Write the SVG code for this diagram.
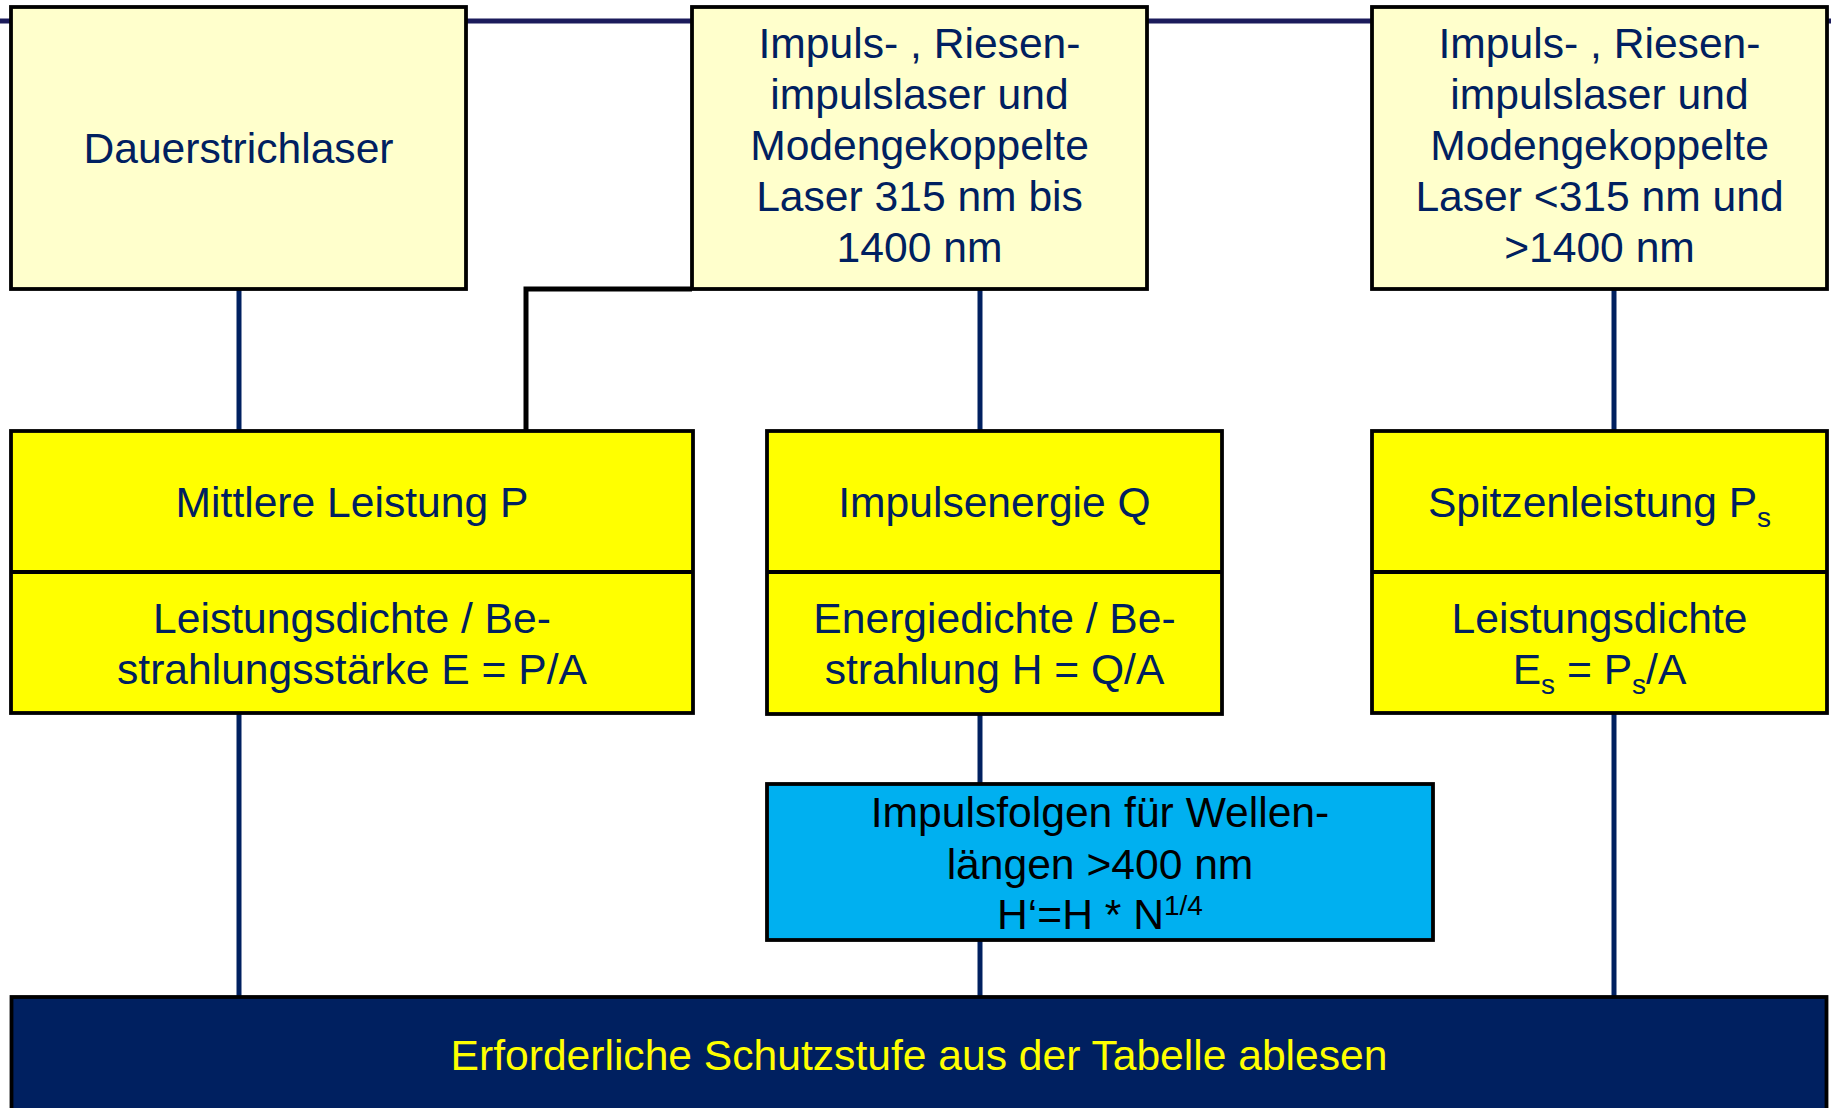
<svg xmlns="http://www.w3.org/2000/svg" width="1831" height="1108" viewBox="0 0 1831 1108">
<style>
.t{font-family:"Liberation Sans",Arial,sans-serif;font-size:42.6px;text-anchor:middle;fill:#002060}
.k{fill:#000}
.y{fill:#ffff00}
.box{stroke:#000;stroke-width:3.8}
.light{fill:#ffffcc}
.yel{fill:#ffff00}
.blue{fill:#00b0f0}
.navy{fill:#002060}
.c{stroke:#002060;stroke-width:5;fill:none}
.sub{font-size:28px}
</style>
<rect width="1831" height="1108" fill="#fff"/>
<g id="connectors">
<line x1="0" y1="21" x2="1831" y2="21" stroke="#1c1c5c" stroke-width="5"/>
<line class="c" x1="239" y1="289" x2="239" y2="431"/>
<line class="c" x1="239" y1="713" x2="239" y2="997"/>
<line class="c" x1="980" y1="289" x2="980" y2="431"/>
<line class="c" x1="980" y1="714" x2="980" y2="784"/>
<line class="c" x1="980" y1="940" x2="980" y2="997"/>
<line class="c" x1="1614" y1="289" x2="1614" y2="431"/>
<line class="c" x1="1614" y1="713" x2="1614" y2="997"/>
<path d="M692,289 H526 V432" stroke="#000" stroke-width="5" fill="none"/>
</g>
<g id="dauerstrichlaser">
<rect class="box light" x="11" y="7" width="455" height="282"/>
<text class="t" x="238.5" y="163">Dauerstrichlaser</text>
</g>
<g id="impuls-315-1400">
<rect class="box light" x="692" y="7" width="455" height="282"/>
<text class="t" x="919.5" y="58">Impuls- , Riesen-</text>
<text class="t" x="919.5" y="109">impulslaser und</text>
<text class="t" x="919.5" y="160">Modengekoppelte</text>
<text class="t" x="919.5" y="211">Laser 315 nm bis</text>
<text class="t" x="919.5" y="262">1400 nm</text>
</g>
<g id="impuls-outside">
<rect class="box light" x="1372" y="7" width="455" height="282"/>
<text class="t" x="1599.5" y="58">Impuls- , Riesen-</text>
<text class="t" x="1599.5" y="109">impulslaser und</text>
<text class="t" x="1599.5" y="160">Modengekoppelte</text>
<text class="t" x="1599.5" y="211">Laser &lt;315 nm und</text>
<text class="t" x="1599.5" y="262">&gt;1400 nm</text>
</g>
<g id="mittlere-leistung">
<rect class="box yel" x="11" y="431" width="682" height="282"/>
<line x1="11" y1="572" x2="693" y2="572" stroke="#000" stroke-width="3.8"/>
<text class="t" x="352" y="517">Mittlere Leistung P</text>
<text class="t" x="352" y="633">Leistungsdichte / Be-</text>
<text class="t" x="352" y="684">strahlungsstärke E = P/A</text>
</g>
<g id="impulsenergie">
<rect class="box yel" x="767" y="431" width="455" height="283"/>
<line x1="767" y1="572" x2="1222" y2="572" stroke="#000" stroke-width="3.8"/>
<text class="t" x="994.5" y="517">Impulsenergie Q</text>
<text class="t" x="994.5" y="633">Energiedichte / Be-</text>
<text class="t" x="994.5" y="684">strahlung H = Q/A</text>
</g>
<g id="spitzenleistung">
<rect class="box yel" x="1372" y="431" width="455" height="282"/>
<line x1="1372" y1="572" x2="1827" y2="572" stroke="#000" stroke-width="3.8"/>
<text class="t" x="1599.5" y="517">Spitzenleistung P<tspan class="sub" dy="10">s</tspan></text>
<text class="t" x="1599.5" y="633">Leistungsdichte</text>
<text class="t" x="1599.5" y="684">E<tspan class="sub" dy="10">s</tspan><tspan dy="-10"> = P</tspan><tspan class="sub" dy="10">s</tspan><tspan dy="-10">/A</tspan></text>
</g>
<g id="impulsfolgen">
<rect class="box blue" x="767" y="784" width="666" height="156"/>
<text class="t k" x="1100" y="827">Impulsfolgen für Wellen-</text>
<text class="t k" x="1100" y="879">längen &gt;400 nm</text>
<text class="t k" x="1100" y="929">H‘=H * N<tspan class="sub" dy="-14">1/4</tspan></text>
</g>
<g id="schutzstufe">
<rect class="box navy" x="11.5" y="997" width="1815" height="130"/>
<text class="t y" x="919" y="1070">Erforderliche Schutzstufe aus der Tabelle ablesen</text>
</g>
</svg>
